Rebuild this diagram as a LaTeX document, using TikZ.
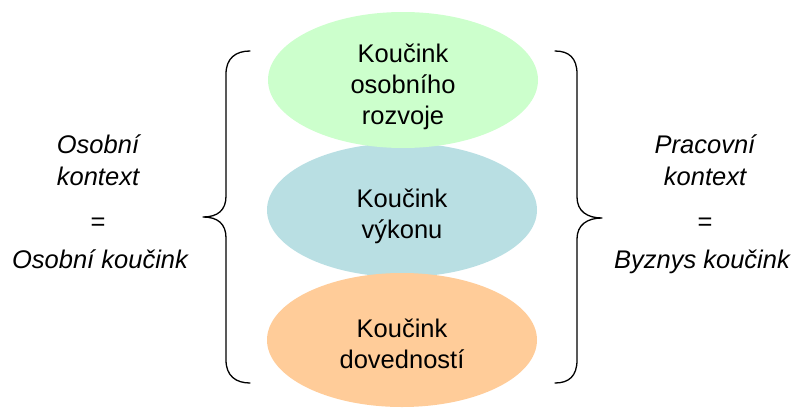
\documentclass[tikz,border=0pt]{standalone}
\usepackage{fontspec}
\setmainfont{Liberation Sans}
\definecolor{growgreen}{RGB}{204,255,204}
\definecolor{perfblue}{RGB}{185,223,227}
\definecolor{skillorange}{RGB}{255,204,153}
\begin{document}
\begin{tikzpicture}[x=1pt,y=-1pt,
  blob/.style={ellipse, minimum width=270pt, minimum height=134pt, inner sep=0pt},
  lbl/.style={anchor=base, inner sep=0pt, font=\fontsize{25.5}{30}\selectfont},
  side/.style={anchor=base, inner sep=0pt, font=\fontsize{25.5}{30}\selectfont\itshape},
  brace/.style={line width=1.3pt, line cap=round, line join=round}]
\useasboundingbox (0,0) rectangle (800,407);

% three coaching areas, the middle one underneath the other two
\fill[perfblue] (402,210) ellipse [x radius=135, y radius=67];
\fill[growgreen] (403,80) ellipse [x radius=135, y radius=68];
\fill[skillorange] (402,340) ellipse [x radius=135, y radius=67];
\coordinate (g) at (403,80);
\coordinate (b) at (402,210);
\coordinate (o) at (402,340);

\node[lbl] (g1) at (403,62) {Koučink};
\node[lbl] (g2) at (403,93) {osobního};
\node[lbl] (g3) at (403,124) {rozvoje};
\node[lbl] (b1) at (402,207) {Koučink};
\node[lbl] (b2) at (402,238) {výkonu};
\node[lbl] (o1) at (402,337) {Koučink};
\node[lbl] (o2) at (402,368) {dovedností};

% curly braces on both sides
\coordinate (lt) at (250,51);
\coordinate (lb) at (250,383);
\coordinate (ltip) at (203,217);
\draw[brace] (lt) .. controls (236,51) and (226,58) .. (226,74) -- (226,196)
  .. controls (226,210) and (218,217) .. (ltip)
  .. controls (218,217) and (226,224) .. (226,238) -- (226,360)
  .. controls (226,376) and (236,383) .. (lb);
\coordinate (rt) at (555,51);
\coordinate (rb) at (555,383);
\coordinate (rtip) at (602,218);
\draw[brace] (rt) .. controls (569,51) and (577,58) .. (577,74) -- (577,197)
  .. controls (577,211) and (587,218) .. (rtip)
  .. controls (587,218) and (577,225) .. (577,239) -- (577,360)
  .. controls (577,376) and (569,383) .. (rb);

% personal context (left)
\node[side] (l1) at (98,153) {Osobní};
\node[side] (l2) at (98,185) {kontext};
\node[lbl] (l3) at (98,230) {=};
\node[side] (l4) at (100,268) {Osobní koučink};

% work context (right)
\node[side] (r1) at (705,153) {Pracovní};
\node[side] (r2) at (705,185) {kontext};
\node[lbl] (r3) at (705,230) {=};
\node[side] (r4) at (702,268) {Byznys koučink};
\end{tikzpicture}
\end{document}
